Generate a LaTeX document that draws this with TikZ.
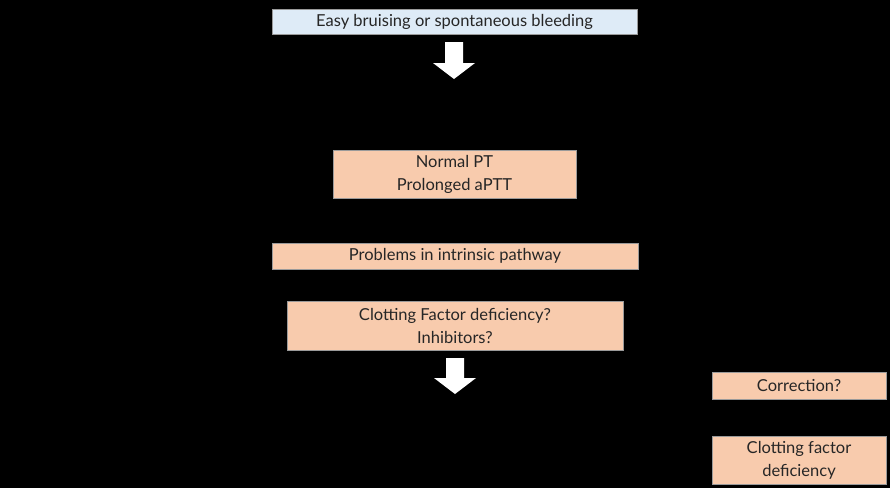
\documentclass[tikz,border=0pt]{standalone}
\usepackage{fontspec}
\setmainfont{Lato}
\usetikzlibrary{positioning}
\definecolor{peach}{HTML}{F8CBAD}
\definecolor{paleblue}{HTML}{DEEBF7}
\definecolor{edgegray}{HTML}{9A9A9A}
\definecolor{inkgray}{HTML}{262626}
\tikzset{stepbox/.style = {draw=edgegray, line width=0.8pt, fill=peach,
                           text=inkgray, align=center, inner sep=0pt,
                           font=\fontsize{16.5}{23}\selectfont}}
\tikzset{startbox/.style = {stepbox, fill=paleblue}}
\newcommand{\downarrowblock}[3]{% x, top y, tip y
  \fill[white] (#1-9,#2) -- (#1+9,#2) -- (#1+9,#3-16) -- (#1+21,#3-16)
     -- (#1,#3) -- (#1-21,#3-16) -- (#1-9,#3-16) -- cycle;}

\begin{document}
\begin{tikzpicture}[x=1pt, y=-1pt]
      \fill[black] (0,0) rectangle (890,488);
      \useasboundingbox (0,0) rectangle (890,488);

      \node[startbox, minimum width=365, minimum height=25] (bleed) at (454.5,21.5)
            {Easy bruising or spontaneous bleeding};
      \downarrowblock{454}{42}{79}

      \node[stepbox, minimum width=243, minimum height=48] (ptt) at (454.5,174)
            {Normal PT\\Prolonged aPTT};
      \node[stepbox, minimum width=366, minimum height=26] (intrinsic) at (455,256)
            {Problems in intrinsic pathway};
      \node[stepbox, minimum width=336, minimum height=49] (factor) at (455,325.5)
            {Clotting Factor deficiency?\\Inhibitors?};
      \downarrowblock{455}{358}{394}

      \node[stepbox, minimum width=174, minimum height=27] (correct) at (799,385.5)
            {Correction?};
      \node[stepbox, minimum width=174, minimum height=48] (deficit) at (799,460)
            {Clotting factor\\deficiency};
    \end{tikzpicture}
\end{document}
